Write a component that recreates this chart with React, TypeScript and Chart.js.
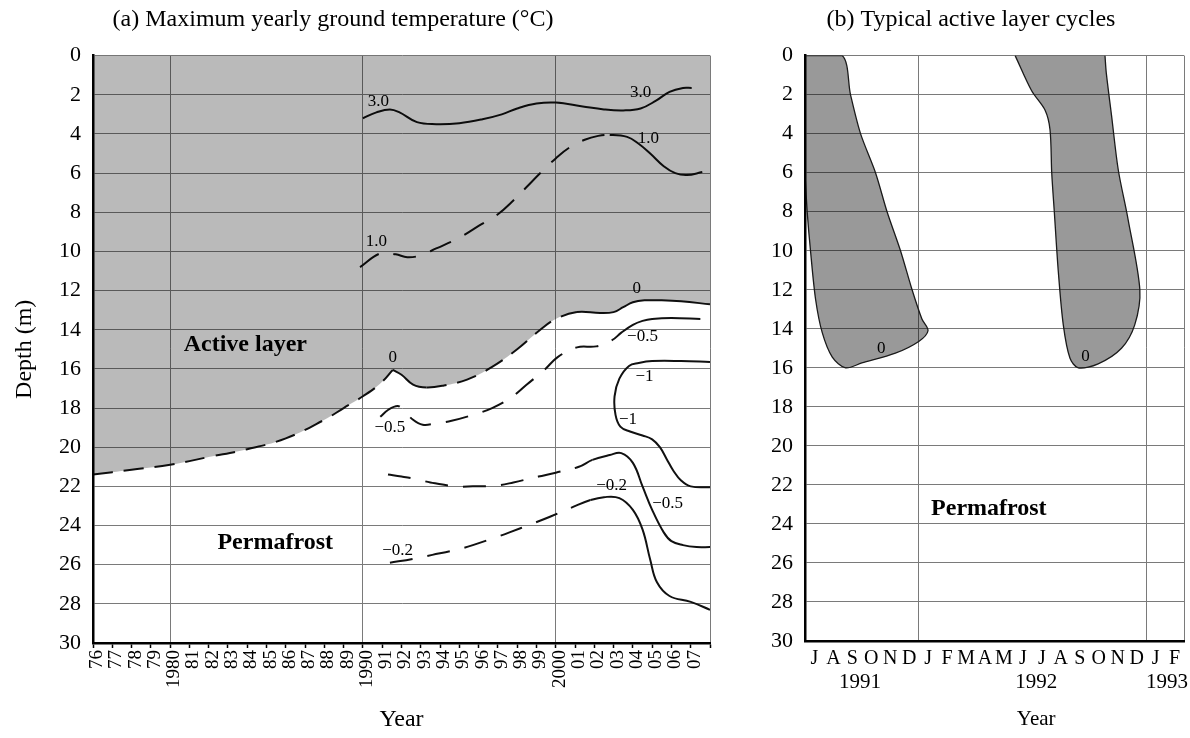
import React, { useEffect, useRef } from 'react';
import { Chart, registerables } from 'chart.js';

Chart.register(...registerables);

const SERIF = "'Liberation Serif', 'Times New Roman', Times, serif";
Chart.defaults.font.family = SERIF;
Chart.defaults.color = '#000';

// ---------------- Panel (a): maximum yearly ground temperature ----------------
const yearTicks = [
  1976, 1977, 1978, 1979, 1980, 1981, 1982, 1983, 1984, 1985, 1986, 1987, 1988, 1989,
  1990, 1991, 1992, 1993, 1994, 1995, 1996, 1997, 1998, 1999, 2000, 2001, 2002, 2003,
  2004, 2005, 2006, 2007, 2008,
];
const yearTickLabels = [
  '76', '77', '78', '79', '1980', '81', '82', '83', '84', '85', '86', '87', '88', '89',
  '1990', '91', '92', '93', '94', '95', '96', '97', '98', '99', '2000', '01', '02', '03',
  '04', '05', '06', '07', '',
];
const yearGridLines = [1980, 1990, 2000, 2008];
const depthTicks = [0, 2, 4, 6, 8, 10, 12, 14, 16, 18, 20, 22, 24, 26, 28, 30];

// 0 °C isotherm (base of the active layer); the cusp point is listed twice
const iso0Years = [1976, 1978, 1980, 1982, 1984, 1986, 1988, 1989, 1990, 1990.9, 1991.55, 1991.55, 1992.0, 1992.6, 1993.3, 1994.2, 1995.4, 1996.7, 1998.0, 1999.2, 2000.0, 2001.1, 2002.3, 2003.0, 2003.5, 2004.0, 2004.6, 2005.5, 2006.5, 2008];
const iso0Depths = [21.4, 21.15, 20.9, 20.5, 20.1, 19.55, 18.6, 18.0, 17.4, 16.75, 16.05, 16.05, 16.3, 16.8, 16.95, 16.85, 16.55, 15.9, 15.0, 14.0, 13.45, 13.1, 13.15, 13.1, 12.85, 12.6, 12.5, 12.5, 12.55, 12.7];
const iso0DashedSpans = [[1976, 1991.55], [1993.3, 2001.1]];

// 3.0 °C isotherm
const iso3Years = [1990.0, 1990.7, 1991.4, 1991.9, 1992.8, 1993.8, 1995.0, 1996.2, 1997.2, 1998.0, 1999.0, 2000.0, 2001.4, 2002.5, 2003.5, 2004.4, 2005.2, 2005.9, 2006.6, 2007.05];
const iso3Depths = [3.2, 2.9, 2.75, 2.9, 3.4, 3.5, 3.45, 3.25, 3.0, 2.7, 2.45, 2.4, 2.6, 2.75, 2.8, 2.7, 2.3, 1.85, 1.65, 1.65];

// 1.0 °C isotherm
const iso1Years = [1989.85, 1990.9, 1991.7, 1992.3, 1993.0, 1993.8, 1995.0, 1996.0, 1997.0, 1997.8, 1998.5, 1999.2, 2000.0, 2000.7, 2001.5, 2002.2, 2002.8, 2003.7, 2004.3, 2004.9, 2005.6, 2006.2, 2006.8, 2007.6];
const iso1Depths = [10.8, 10.1, 10.15, 10.3, 10.2, 9.85, 9.3, 8.7, 8.1, 7.4, 6.7, 6.0, 5.25, 4.7, 4.3, 4.1, 4.05, 4.15, 4.5, 5.0, 5.65, 6.0, 6.1, 5.95];
const iso1DashedSpans = [[1989.85, 2002.8]];

// −0.5 °C isotherm (upper branch)
const isoM05aYears = [1990.9, 1991.3, 1991.8, 1992.1, 1992.6, 1993.1, 1993.7, 1994.6, 1995.7, 1996.7, 1997.7, 1998.5, 1999.4, 2000.1, 2001.1, 2002.1, 2002.9, 2003.4, 2004.0, 2004.5, 2005.0, 2006.0, 2007.5];
const isoM05aDepths = [18.45, 18.1, 17.9, 18.1, 18.6, 18.85, 18.8, 18.65, 18.35, 18.0, 17.45, 16.8, 16.06, 15.4, 14.9, 14.85, 14.55, 14.15, 13.75, 13.55, 13.45, 13.4, 13.45];
const isoM05aDashedSpans = [[1990.9, 2002.9]];

// −1 °C isotherm (closed tongue)
const isoM1Years = [2008, 2006.5, 2005.0, 2004.3, 2003.8, 2003.3, 2003.05, 2003.1, 2003.35, 2003.85, 2004.5, 2005.0, 2005.4, 2005.75, 2006.1, 2006.5, 2007.0, 2008];
const isoM1Depths = [15.65, 15.6, 15.6, 15.7, 15.85, 16.5, 17.4, 18.35, 18.95, 19.2, 19.4, 19.6, 20.0, 20.6, 21.2, 21.7, 22.0, 22.05];

// −0.5 °C isotherm (lower branch)
const isoM05bYears = [1991.3, 1992.0, 1992.6, 1993.5, 1994.8, 1995.7, 1997.0, 1997.8, 1999.1, 2000.0, 2001.2, 2001.9, 2002.8, 2003.4, 2004.0, 2004.5, 2005.0, 2005.6, 2006.0, 2006.6, 2007.3, 2008];
const isoM05bDepths = [21.4, 21.5, 21.6, 21.8, 22.0, 22.0, 21.95, 21.8, 21.5, 21.3, 21.0, 20.65, 20.4, 20.3, 20.8, 22.0, 23.2, 24.35, 24.8, 25.0, 25.1, 25.1];
const isoM05bDashedSpans = [[1991.3, 2001.9]];

// −0.2 °C isotherm
const isoM02Years = [1991.4, 1992.6, 1993.6, 1994.8, 1995.7, 1996.9, 1997.6, 1998.8, 1999.7, 2000.9, 2001.8, 2002.5, 2003.3, 2004.0, 2004.5, 2004.9, 2005.25, 2005.9, 2007.0, 2008];
const isoM02Depths = [25.9, 25.7, 25.5, 25.25, 25.0, 24.6, 24.35, 23.9, 23.55, 23.05, 22.7, 22.55, 22.6, 23.2, 24.2, 25.75, 26.9, 27.6, 27.9, 28.3];
const isoM02DashedSpans = [[1991.4, 2001.8]];

// contour labels
const contourLabelTexts = ['3.0', '3.0', '1.0', '1.0', '0', '0', '\u22120.5', '\u22120.5', '\u22121', '\u22121', '\u22120.5', '\u22120.2', '\u22120.2'];
const contourLabelYears = [1990.8, 2004.4, 2004.8, 1990.7, 2004.2, 1991.55, 2004.5, 1991.4, 2004.6, 2003.75, 2005.8, 2002.9, 1991.8];
const contourLabelDepths = [2.35, 1.9, 4.25, 9.5, 11.9, 15.4, 14.35, 19.0, 16.4, 18.6, 22.9, 21.95, 25.3];
const zoneLabelTexts = ['Active layer', 'Permafrost'];
const zoneLabelYears = [1983.9, 1985.45];
const zoneLabelDepths = [14.75, 24.9];

// ---------------- Panel (b): typical active layer cycles ----------------
// x = months since 1 July 1991
const monthTickPositions = [0.5, 1.5, 2.5, 3.5, 4.5, 5.5, 6.5, 7.5, 8.5, 9.5, 10.5, 11.5, 12.5, 13.5, 14.5, 15.5, 16.5, 17.5, 18.5, 19.5];
const monthTickLabels = ['J', 'A', 'S', 'O', 'N', 'D', 'J', 'F', 'M', 'A', 'M', 'J', 'J', 'A', 'S', 'O', 'N', 'D', 'J', 'F'];
const monthGridLines = [0, 6, 18, 20];
const yearLabelPositions = [2.9, 12.2, 19.1];
const yearLabelTexts = [['1991'], ['1992', 'Year'], ['1993']];

const thaw1991Months = [0, 1.96, 2.4, 2.93, 3.72, 4.33, 5.04, 5.65, 6.17, 6.49, 6.0, 4.77, 3.0, 2.14, 1.44, 0.91, 0.56, 0.3, 0.12, 0.02, 0];
const thaw1991Depths = [0, 0, 2, 4, 6, 8, 10, 12, 13.5, 14.1, 14.65, 15.25, 15.75, 16.0, 15.45, 14.2, 12.5, 10.1, 8.06, 6.4, 6.0];
const thaw1992Months = [11.09, 11.96, 12.67, 12.93, 13.02, 13.16, 13.37, 13.63, 13.98, 14.42, 15.47, 16.7, 17.4, 17.67, 17.05, 16.53, 16.18, 15.9, 15.83];
const thaw1992Depths = [0, 1.8, 2.8, 3.8, 6.0, 8.06, 11.1, 13.8, 15.5, 16.0, 15.8, 15.0, 13.8, 12.0, 8.4, 5.85, 3.1, 0.9, 0];

const thawLabelTexts = ['0', '0'];
const thawLabelMonths = [4.02, 14.8];
const thawLabelDepths = [15.0, 15.4];
const zoneBLabelTexts = ['Permafrost'];
const zoneBLabelMonths = [9.7];
const zoneBLabelDepths = [23.2];

// ---------------- helpers ----------------
const GRID = '#7a7a7a';
const pts = (xs: number[], ys: number[]) => xs.map((x, i) => ({ x, y: ys[i] }));

const dashedIn = (xs: number[], spans: number[][], dash: number[]) => (ctx: any) => {
  const x0 = xs[ctx.p0DataIndex];
  const x1 = xs[ctx.p1DataIndex];
  return spans.some(([a, b]) => x0 >= a - 1e-6 && x1 <= b + 1e-6) ? dash : [];
};

const contour = (xs: number[], ys: number[], spans: number[][] | null, dash: number[], extra: any = {}) => ({
  data: pts(xs, ys),
  borderColor: '#111',
  borderWidth: 2,
  pointRadius: 0,
  tension: 0.4,
  fill: false,
  segment: spans ? { borderDash: dashedIn(xs, spans, dash) } : undefined,
  ...extra,
});

type Mark = { texts: any[]; xs: number[]; ys: number[]; font: string };
const textMarks = (groups: Mark[]) => ({
  id: 'textMarks',
  afterDatasetsDraw(chart: any) {
    const { ctx, scales } = chart;
    ctx.save();
    ctx.fillStyle = '#000';
    ctx.textAlign = 'center';
    ctx.textBaseline = 'middle';
    groups.forEach((g) => {
      ctx.font = g.font;
      g.texts.forEach((t, i) => {
        ctx.fillText(t, scales.x.getPixelForValue(g.xs[i]), scales.y.getPixelForValue(g.ys[i]));
      });
    });
    ctx.restore();
  },
});

const depthAxis = (width: number, title: any) => ({
  type: 'linear',
  reverse: true,
  min: 0,
  max: 30,
  afterBuildTicks: (s: any) => { s.ticks = depthTicks.map((v) => ({ value: v })); },
  afterFit: (s: any) => { s.width = width; },
  ticks: { font: { size: 22 }, padding: 12, color: '#000' },
  grid: { color: GRID, lineWidth: 1, drawTicks: false },
  border: { color: '#000', width: 2.5, z: 1 },
  title,
});

function leftConfig(): any {
  const DASH_A = [20, 11];
  const DASH_B = [23, 15];
  return {
    type: 'line',
    data: {
      datasets: [
        // shaded active layer: area above the 0 °C isotherm
        contour(iso0Years, iso0Depths, null, DASH_A, {
          borderWidth: 0,
          borderColor: 'rgba(0,0,0,0)',
          fill: { value: 0 },
          backgroundColor: 'rgba(0,0,0,0.27)',
        }),
        contour(iso0Years, iso0Depths, iso0DashedSpans, DASH_A),
        contour(iso3Years, iso3Depths, null, DASH_B),
        contour(iso1Years, iso1Depths, iso1DashedSpans, DASH_B),
        contour(isoM05aYears, isoM05aDepths, isoM05aDashedSpans, DASH_B),
        contour(isoM1Years, isoM1Depths, null, DASH_B),
        contour(isoM05bYears, isoM05bDepths, isoM05bDashedSpans, DASH_B),
        contour(isoM02Years, isoM02Depths, isoM02DashedSpans, DASH_B),
      ],
    },
    options: {
      animation: false,
      responsive: false,
      events: [],
      layout: { padding: { left: 0, right: 26, top: 0, bottom: 0 } },
      plugins: {
        legend: { display: false },
        tooltip: { enabled: false },
        title: {
          display: true,
          text: '(a) Maximum yearly ground temperature (\u00B0C)',
          color: '#000',
          font: { size: 24, weight: 'normal', family: SERIF },
          padding: { top: 5.6, bottom: 21.2 },
        },
      },
      scales: {
        x: {
          type: 'linear',
          position: 'bottom',
          min: 1976,
          max: 2008,
          afterBuildTicks: (s: any) => { s.ticks = yearTicks.map((v) => ({ value: v })); },
          afterFit: (s: any) => { s.height = 95; },
          ticks: {
            autoSkip: false,
            maxRotation: 90,
            minRotation: 90,
            padding: 2,
            labelOffset: 4,
            font: { size: 19 },
            color: '#000',
            callback: (_v: any, i: number) => yearTickLabels[i],
          },
          grid: {
            color: (c: any) => (c.tick && yearGridLines.includes(c.tick.value) ? GRID : 'rgba(0,0,0,0)'),
            tickColor: '#000',
            tickLength: 5,
            tickWidth: 1.5,
            lineWidth: 1,
          },
          border: { color: '#000', width: 2.5, z: 1 },
          title: {
            display: true,
            text: 'Year',
            color: '#000',
            font: { size: 24 },
            padding: { top: 0, bottom: 3.6 },
          },
        },
        y: depthAxis(137, {
          display: true,
          text: 'Depth (m)',
          color: '#000',
          font: { size: 24 },
          padding: { top: 54.6, bottom: 0 },
        }),
      },
    },
    plugins: [
      textMarks([
        { texts: contourLabelTexts, xs: contourLabelYears, ys: contourLabelDepths, font: `17px ${SERIF}` },
        { texts: zoneLabelTexts, xs: zoneLabelYears, ys: zoneLabelDepths, font: `bold 24px ${SERIF}` },
      ]),
    ],
  };
}

function rightConfig(): any {
  const shape = (xs: number[], ys: number[]) => ({
    data: pts(xs, ys),
    borderColor: '#1a1a1a',
    borderWidth: 1.3,
    backgroundColor: 'rgba(0,0,0,0.4)',
    fill: 'shape',
    pointRadius: 0,
    tension: 0.3,
  });
  return {
    type: 'line',
    data: {
      datasets: [shape(thaw1991Months, thaw1991Depths), shape(thaw1992Months, thaw1992Depths)],
    },
    options: {
      animation: false,
      responsive: false,
      events: [],
      layout: { padding: { left: 18, right: 6, top: 0, bottom: 0 } },
      plugins: {
        legend: { display: false },
        tooltip: { enabled: false },
        title: {
          display: true,
          text: '(b) Typical active layer cycles',
          color: '#000',
          font: { size: 24, weight: 'normal', family: SERIF },
          padding: { top: 5.6, bottom: 21.2 },
        },
      },
      scales: {
        x: {
          type: 'linear',
          position: 'bottom',
          weight: 0,
          min: 0,
          max: 20,
          afterBuildTicks: (s: any) => { s.ticks = monthGridLines.map((v) => ({ value: v })); },
          afterFit: (s: any) => { s.height = 0; },
          ticks: { display: false },
          grid: { color: GRID, lineWidth: 1, drawTicks: false },
          border: { color: '#000', width: 2.5, z: 1 },
        },
        xMonths: {
          type: 'linear',
          position: 'bottom',
          weight: 1,
          min: 0,
          max: 20,
          afterBuildTicks: (s: any) => { s.ticks = monthTickPositions.map((v) => ({ value: v })); },
          afterFit: (s: any) => { s.height = 28; },
          ticks: {
            autoSkip: false,
            maxRotation: 0,
            minRotation: 0,
            padding: 6,
            font: { size: 20 },
            color: '#000',
            callback: (_v: any, i: number) => monthTickLabels[i],
          },
          grid: { display: false, drawTicks: false },
          border: { display: false },
        },
        xYears: {
          type: 'linear',
          position: 'bottom',
          weight: 2,
          min: 0,
          max: 20,
          afterBuildTicks: (s: any) => { s.ticks = yearLabelPositions.map((v) => ({ value: v })); },
          afterFit: (s: any) => { s.height = 69; },
          ticks: {
            autoSkip: false,
            maxRotation: 0,
            minRotation: 0,
            padding: -5.9,
            font: { size: 21, lineHeight: 1.8 },
            color: '#000',
            callback: (_v: any, i: number) => yearLabelTexts[i],
          },
          grid: { display: false, drawTicks: false },
          border: { display: false },
        },
        y: depthAxis(47, { display: false }),
      },
    },
    plugins: [
      textMarks([
        { texts: thawLabelTexts, xs: thawLabelMonths, ys: thawLabelDepths, font: `17px ${SERIF}` },
        { texts: zoneBLabelTexts, xs: zoneBLabelMonths, ys: zoneBLabelDepths, font: `bold 24px ${SERIF}` },
      ]),
    ],
  };
}

export default function App() {
  const leftRef = useRef<HTMLCanvasElement>(null);
  const rightRef = useRef<HTMLCanvasElement>(null);

  useEffect(() => {
    const a = new Chart(leftRef.current as HTMLCanvasElement, leftConfig());
    const b = new Chart(rightRef.current as HTMLCanvasElement, rightConfig());
    return () => {
      a.destroy();
      b.destroy();
    };
  }, []);

  return (
    <div
      style={{
        position: 'absolute',
        left: 0,
        top: 0,
        width: 1190,
        height: 738,
        overflow: 'hidden',
        background: '#fff',
      }}
    >
      <canvas
        ref={leftRef}
        width={780}
        height={738}
        style={{ position: 'absolute', left: -44, top: 0, width: 780, height: 738 }}
      />
      <canvas
        ref={rightRef}
        width={450}
        height={738}
        style={{ position: 'absolute', left: 740, top: 0, width: 450, height: 738 }}
      />
    </div>
  );
}
